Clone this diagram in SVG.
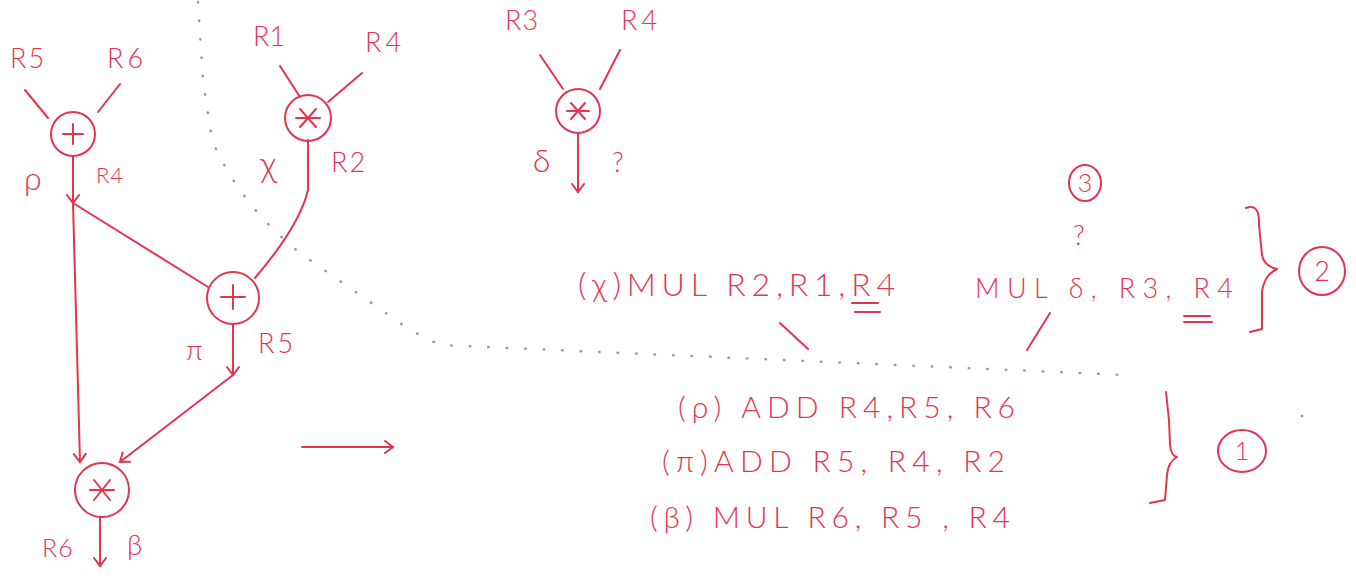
<svg xmlns="http://www.w3.org/2000/svg" width="1356" height="576" viewBox="0 0 1356 576">
<defs>
<style>
.ln{fill:none;stroke:#e4344f;stroke-width:2;stroke-linecap:round;stroke-linejoin:round}
.nd{fill:none;stroke:#e4344f;stroke-width:2}
.t{fill:#e4344f;font-family:"Lato","Liberation Sans","DejaVu Sans",sans-serif;font-weight:300}
.g{fill:#e4344f;font-family:"Lato","DejaVu Sans",sans-serif;font-weight:300}
.dot{fill:none;stroke:#9a9a9a;stroke-width:2.5;stroke-linecap:round;stroke-dasharray:0.5 18}
</style>
<marker id="ah" viewBox="0 0 14 14" refX="12" refY="7" markerWidth="14" markerHeight="14" markerUnits="userSpaceOnUse" orient="auto">
<path d="M4,1 L12,7 L4,13" fill="none" stroke="#e4344f" stroke-width="2" stroke-linecap="round"/>
</marker>
</defs>
<rect width="1356" height="576" fill="#ffffff"/>

<!-- dotted separator -->
<path class="dot" d="M198,2 L203,80 L212,140 Q240,205 300,253 L410,330 L440,345 L1125,375"/>
<circle cx="1302" cy="416" r="1.3" fill="#9a9a9a"/>

<g id="connectors">
<path class="ln" d="M25,90 L48,118"/>
<path class="ln" d="M120,84 L98,112"/>
<path class="ln" d="M280,66 L300,97"/>
<path class="ln" d="M362,73 L328,102"/>
<path class="ln" d="M540,55 L563,89"/>
<path class="ln" d="M620,50 L600,89"/>
<path class="ln" d="M73,157 L73,203" marker-end="url(#ah)"/>
<path class="ln" d="M73,203 L80,462" marker-end="url(#ah)"/>
<path class="ln" d="M73,203 L208,287"/>
<path class="ln" d="M308,140 L308,190 Q300,225 255,278"/>
<path class="ln" d="M233,325 L233,375" marker-end="url(#ah)"/>
<path class="ln" d="M233,375 L120,462" marker-end="url(#ah)"/>
<path class="ln" d="M100,517 L100,566" marker-end="url(#ah)"/>
<path class="ln" d="M578,134 L578,192" marker-end="url(#ah)"/>
<path class="ln" d="M302,447 L393,447" marker-end="url(#ah)"/>
</g>

<g id="n-add-rho">
<circle class="nd" cx="73" cy="134" r="22"/>
<path class="ln" d="M63,134 L83,134 M73,124 L73,144"/>
<text class="t" x="10" y="68" font-size="27" letter-spacing="2">R5</text>
<text class="t" x="107" y="68" font-size="27" letter-spacing="4">R6</text>
<text class="g" x="24" y="190" font-size="32">ρ</text>
<text class="t" x="96" y="183" font-size="22" letter-spacing="1">R4</text>
</g>

<g id="n-mul-chi">
<circle class="nd" cx="308" cy="118" r="23"/>
<path class="ln" d="M296,118 L320,118 M300,109 L316,127 M316,109 L300,127"/>
<text class="t" x="253" y="46" font-size="27">R1</text>
<text class="t" x="365" y="52" font-size="27" letter-spacing="4">R4</text>
<text class="g" x="260" y="177" font-size="36">χ</text>
<text class="t" x="331" y="172" font-size="27" letter-spacing="2">R2</text>
</g>

<g id="n-add-pi">
<circle class="nd" cx="233" cy="298" r="26"/>
<path class="ln" d="M221,297 L245,297 M233,285 L233,309"/>
<text class="g" x="186" y="360" font-size="28">π</text>
<text class="t" x="258" y="353" font-size="27" letter-spacing="3">R5</text>
</g>

<g id="n-mul-beta">
<circle class="nd" cx="102" cy="490" r="27"/>
<path class="ln" d="M90,490 L114,490 M94,480 L110,500 M110,480 L94,500"/>
<text class="t" x="42" y="557" font-size="25" letter-spacing="1">R6</text>
<text class="g" x="127" y="555" font-size="28">β</text>
</g>

<g id="n-mul-delta">
<circle class="nd" cx="578" cy="111" r="22"/>
<path class="ln" d="M567,111 L589,111 M571,103 L585,119 M585,103 L571,119"/>
<text class="t" x="505" y="30" font-size="27" letter-spacing="1">R3</text>
<text class="t" x="621" y="30" font-size="27" letter-spacing="4">R4</text>
<text class="g" x="533" y="172" font-size="32">δ</text>
<text class="t" x="612" y="172" font-size="27">?</text>
</g>

<g id="code">
<text class="t" x="578" y="296" font-size="32" textLength="317" lengthAdjust="spacing">(χ)MUL R2,R1,R4</text>
<path class="ln" d="M852,303 L878,303 M855,312 L880,312"/>
<text class="t" x="975" y="298" font-size="27" textLength="258" lengthAdjust="spacing">MUL δ, R3, R4</text>
<path class="ln" d="M1184,316 L1210,316 M1184,322 L1212,322"/>
<text class="t" x="1073" y="245" font-size="27">?</text>
<ellipse class="nd" cx="1085" cy="183" rx="16" ry="18"/>
<text class="t" x="1085" y="192" font-size="25" text-anchor="middle">3</text>
<path class="ln" d="M780,323 L808,349"/>
<path class="ln" d="M1050,313 L1027,350"/>
<path class="ln" d="M1246,208 Q1260,203 1259,225 L1262,255 Q1264,266 1277,269 Q1264,275 1262,292 L1262,329 L1250,332"/>
<ellipse class="nd" cx="1322" cy="271" rx="23" ry="24"/>
<text class="t" x="1322" y="281" font-size="27" text-anchor="middle">2</text>

<text class="t" x="678" y="418" font-size="30" textLength="337" lengthAdjust="spacing">(ρ) ADD R4,R5, R6</text>
<text class="t" x="662" y="472" font-size="30" textLength="343" lengthAdjust="spacing">(π)ADD  R5, R4, R2</text>
<text class="t" x="650" y="528" font-size="30" textLength="360" lengthAdjust="spacing">(β)  MUL  R6, R5 , R4</text>
<path class="ln" d="M1166,392 L1169,420 L1170,445 Q1171,456 1177,457 Q1168,462 1167,475 L1165,500 L1150,503"/>
<ellipse class="nd" cx="1242" cy="451" rx="24" ry="21"/>
<text class="t" x="1242" y="460" font-size="25" text-anchor="middle">1</text>
</g>
</svg>
